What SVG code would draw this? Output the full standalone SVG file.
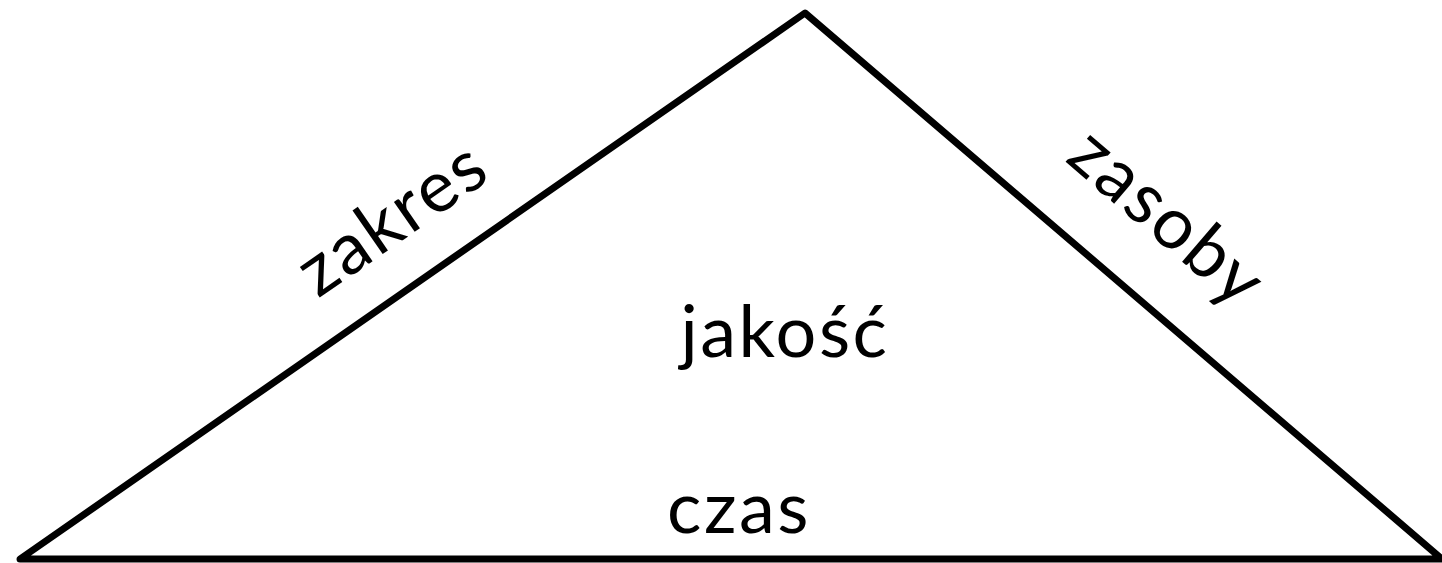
<svg xmlns="http://www.w3.org/2000/svg" width="1442" height="563" viewBox="0 0 1442 563">
<style>
.lbl{font-family:Lato,"Liberation Sans",sans-serif;font-size:72px;font-weight:400;letter-spacing:2.5px;fill:#000;text-anchor:middle}
.edge{fill:none;stroke:#000;stroke-width:7;stroke-linejoin:round;stroke-linecap:round}
</style>
<rect width="1442" height="563" fill="#fff"/>
<g id="connectors">
<path class="edge" d="M20 559 L805 13 L1442 559 Z"/>
</g>
<g id="zakres"><text class="lbl" transform="translate(406 238) rotate(-34.7)">zakres</text></g>
<g id="zasoby"><text class="lbl" transform="translate(1152 236) rotate(40.6)">zasoby</text></g>
<g id="jakosc"><text class="lbl" x="785" y="357">jakość</text></g>
<g id="czas"><text class="lbl" x="739" y="533">czas</text></g>
</svg>
